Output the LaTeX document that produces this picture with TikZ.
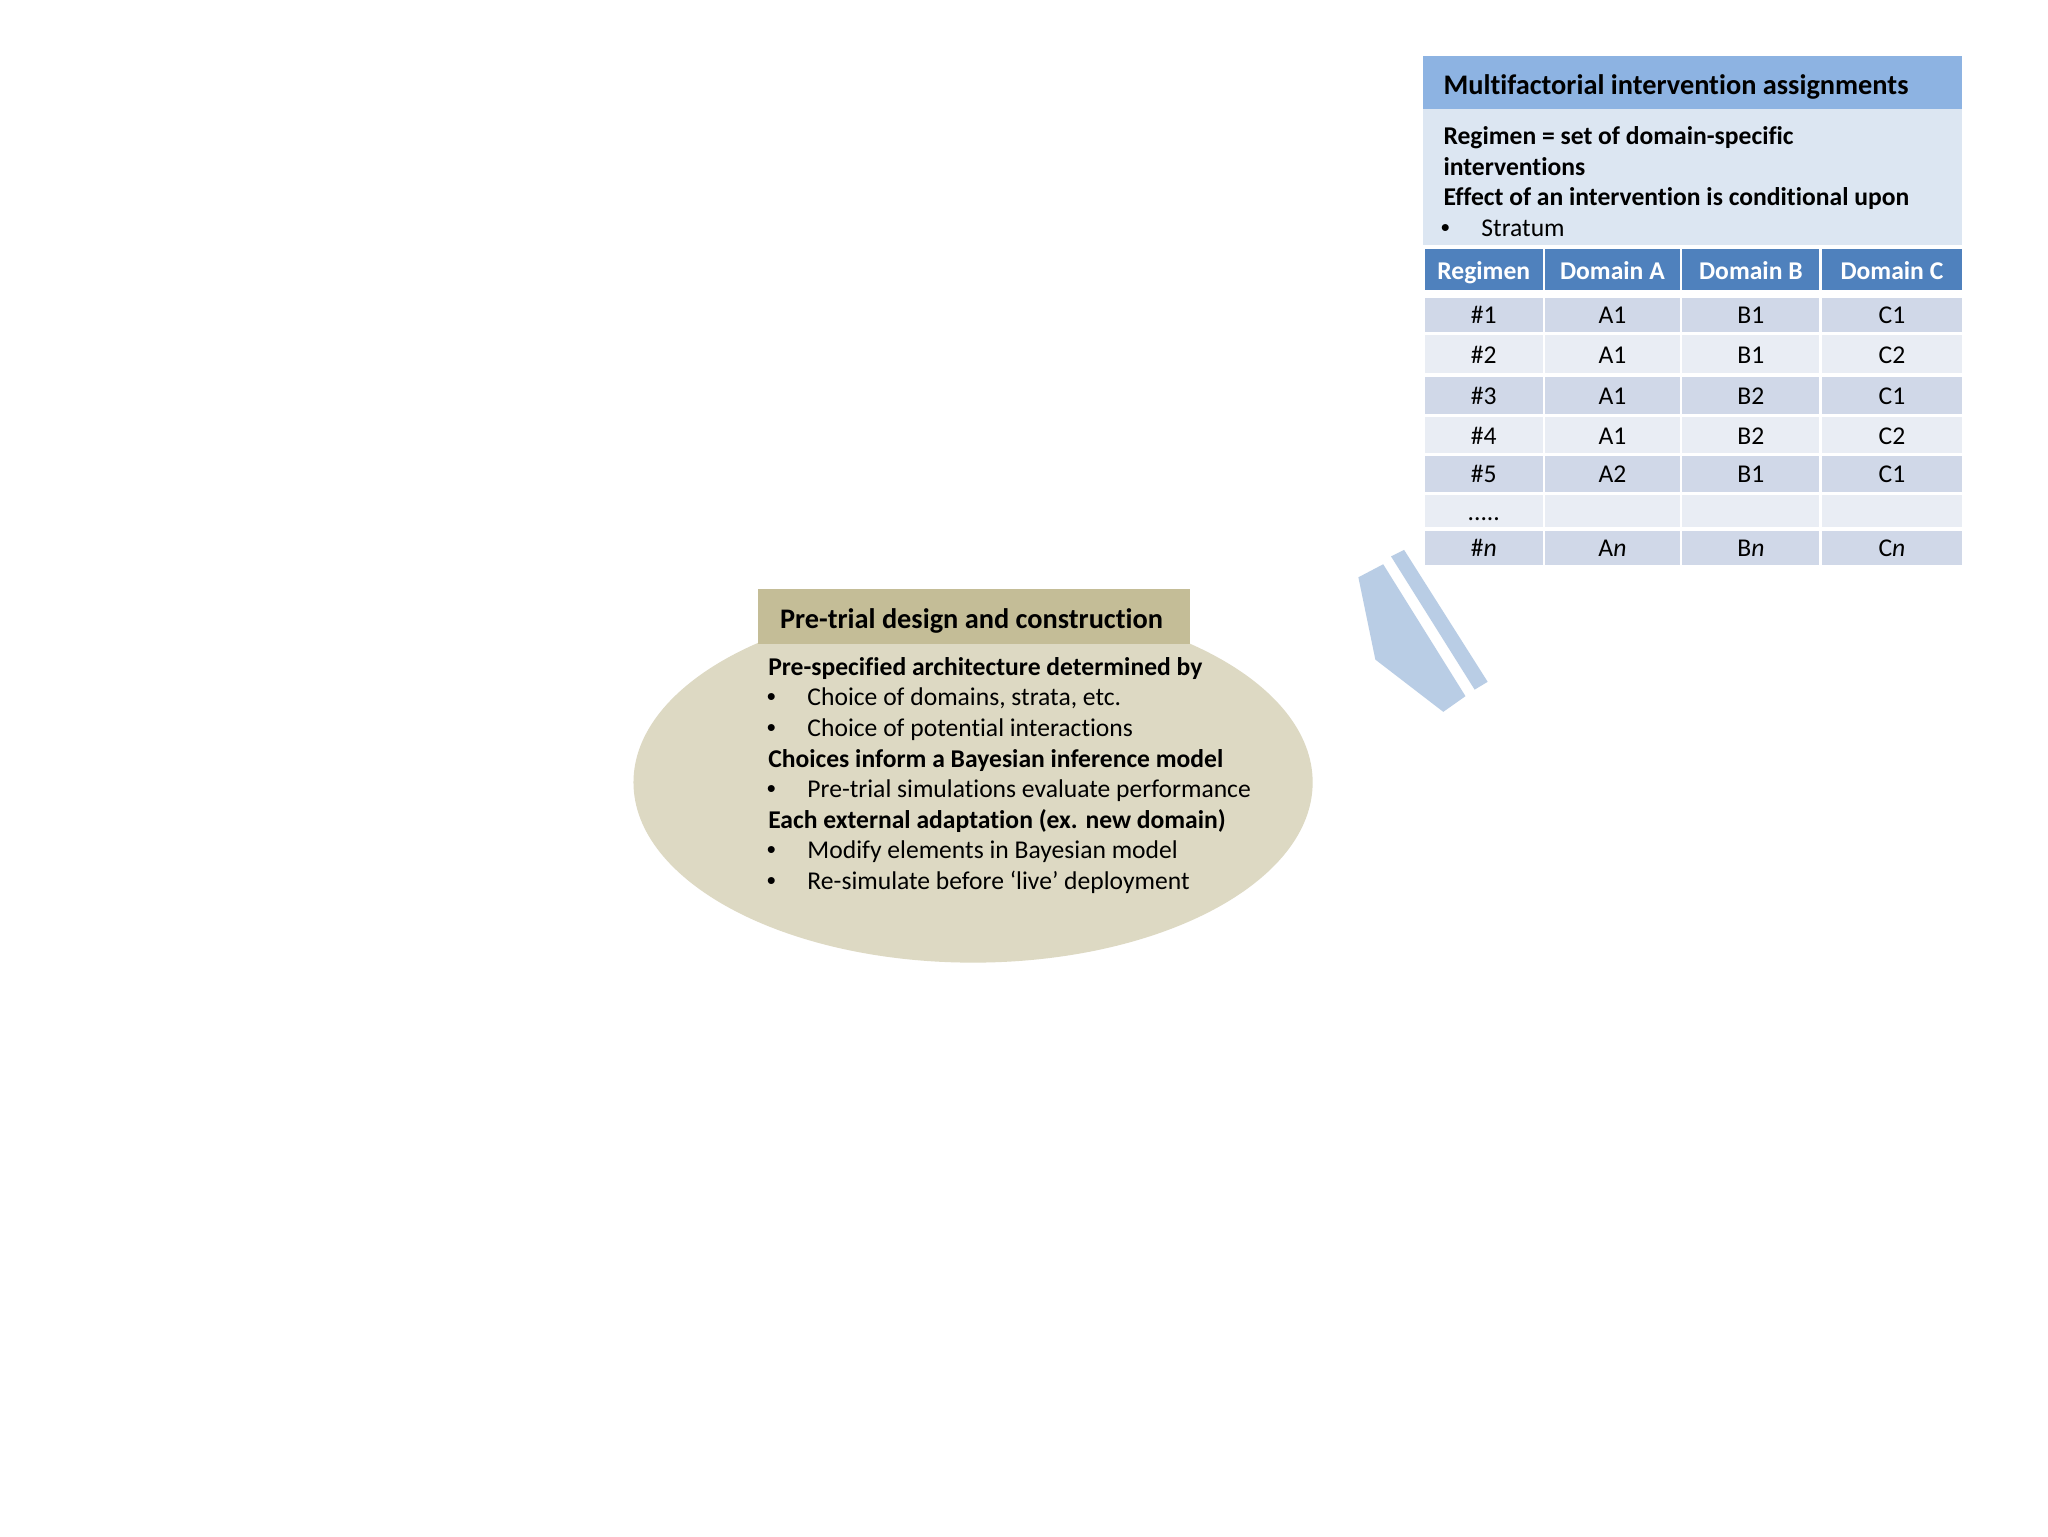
\documentclass[tikz,border=0pt]{standalone}
\usepackage{fontspec}
\setmainfont{Carlito}[Ligatures=NoCommon]
\newfontfamily\bulletfont{Liberation Sans}
\usetikzlibrary{shapes.geometric}
\definecolor{phead}{HTML}{8DB3E2}
\definecolor{pbody}{HTML}{DCE6F2}
\definecolor{thead}{HTML}{4F81BD}
\definecolor{rowa}{HTML}{D0D8E8}
\definecolor{rowb}{HTML}{E9EDF4}
\definecolor{arrowc}{HTML}{B9CDE5}
\definecolor{ellc}{HTML}{DDD9C3}
\definecolor{ehead}{HTML}{C4BD97}
\newcommand{\myrowdots}{.....}
\begin{document}
\begin{tikzpicture}[x=1pt,y=-1pt,
  txt/.style={anchor=base west, inner sep=0pt, font=\fontsize{19.6}{23.5}\selectfont},
  bul/.style={anchor=base west, inner sep=0pt, font=\bulletfont\fontsize{19.6}{23.5}\selectfont},
  btxt/.style={anchor=base west, inner sep=0pt, font=\bfseries\fontsize{19.6}{23.5}\selectfont},
  ttxt/.style={anchor=base west, inner sep=0pt, font=\bfseries\fontsize{21.7}{26}\selectfont},
  cell/.style={inner sep=0pt, text height=13.5pt, text depth=0pt, anchor=center, font=\fontsize{19.6}{23.5}\selectfont},
  hcell/.style={cell, fill=thead, text=white, text height=16pt, font=\bfseries\fontsize{19.6}{23.5}\selectfont, minimum height=31pt},
  box/.style={anchor=north west, inner sep=0pt, draw=none},
  ]
\useasboundingbox (0,0) rectangle (1568,1176);
\fill[white] (0,0) rectangle (1568,1176);

% ---------- right panel ----------
\node[box, fill=phead, minimum width=413pt, minimum height=40pt] (phd) at (1089,43) {};
\node[ttxt] (ptitle) at (1105,72) {Multifactorial intervention assignments};
\node[box, fill=pbody, minimum width=413pt, minimum height=104pt] (pbd) at (1089,83) {};
\node[btxt] (pl1) at (1105,110.5) {Regimen = set of domain-specific};
\node[btxt] (pl2) at (1105,134) {interventions};
\node[btxt] (pl3) at (1105,157.5) {Effect of an intervention is conditional upon};
\node[bul] (pb4) at (1103,181) {•};
\node[txt] (pl4) at (1134,181) {Stratum};

% ---------- table ----------
\node[hcell, minimum width=90pt] (h1) at (1136,206.3) {Regimen};
\node[hcell, minimum width=103pt] (h2) at (1234.5,206.3) {Domain A};
\node[hcell, minimum width=105pt] (h3) at (1340.5,206.3) {Domain B};
\node[hcell, minimum width=107pt] (h4) at (1448.5,206.3) {Domain C};
\foreach \i/\yc/\hh/\col/\a/\b/\c/\d in {
  1/241.2/25.6/rowa/\#1/A1/B1/C1,
  2/271.2/29.3/rowb/\#2/A1/B1/C2,
  3/302.7/28.6/rowa/\#3/A1/B2/C1,
  4/333.3/27.6/rowb/\#4/A1/B2/C2,
  5/363/27.5/rowa/\#5/A2/B1/C1,
  6/391.4/24.8/rowb/\myrowdots/{}/{}/{},
  7/419.5/26.2/rowa/\#\textit{n}/A\textit{n}/B\textit{n}/C\textit{n}}{
  \node[cell, fill=\col, minimum width=90pt, minimum height=\hh pt] (r\i c1) at (1136,\yc) {\a};
  \node[cell, fill=\col, minimum width=103pt, minimum height=\hh pt] (r\i c2) at (1234.5,\yc) {\b};
  \node[cell, fill=\col, minimum width=105pt, minimum height=\hh pt] (r\i c3) at (1340.5,\yc) {\c};
  \node[cell, fill=\col, minimum width=107pt, minimum height=\hh pt] (r\i c4) at (1448.5,\yc) {\d};
}

% ---------- arrow ----------
\fill[arrowc] (1040,442) -- (1059,432) -- (1122,533) -- (1105,545) -- (1053,505) -- cycle;
\fill[arrowc] (1065,426) -- (1075,421) -- (1139,522) -- (1129,528) -- cycle;

% ---------- ellipse ----------
\node[ellipse, fill=ellc, minimum width=520pt, minimum height=276pt, inner sep=0pt] (ell) at (745,599) {};
\node[box, fill=ehead, minimum width=331pt, minimum height=42pt] (ehd) at (580,451) {};
\node[ttxt] (etitle) at (597,481) {Pre-trial design and construction};
\node[btxt] (e1) at (588,517) {Pre-specified architecture determined by};
\node[bul] (eb2) at (587,540.4) {•};
\node[txt] (e2) at (618,540.4) {Choice of domains, strata, etc.};
\node[bul] (eb3) at (587,563.9) {•};
\node[txt] (e3) at (618,563.9) {Choice of potential interactions};
\node[btxt] (e4) at (588,587.3) {Choices inform a Bayesian inference model};
\node[bul] (eb5) at (587,610.7) {•};
\node[txt] (e5) at (618,610.7) {Pre-trial simulations evaluate performance};
\node[btxt] (e6) at (588,634.2) {Each external adaptation (ex. new domain)};
\node[bul] (eb7) at (587,657.6) {•};
\node[txt] (e7) at (618,657.6) {Modify elements in Bayesian model};
\node[bul] (eb8) at (587,681) {•};
\node[txt] (e8) at (618,681) {Re-simulate before ‘live’ deployment};
\end{tikzpicture}
\end{document}
